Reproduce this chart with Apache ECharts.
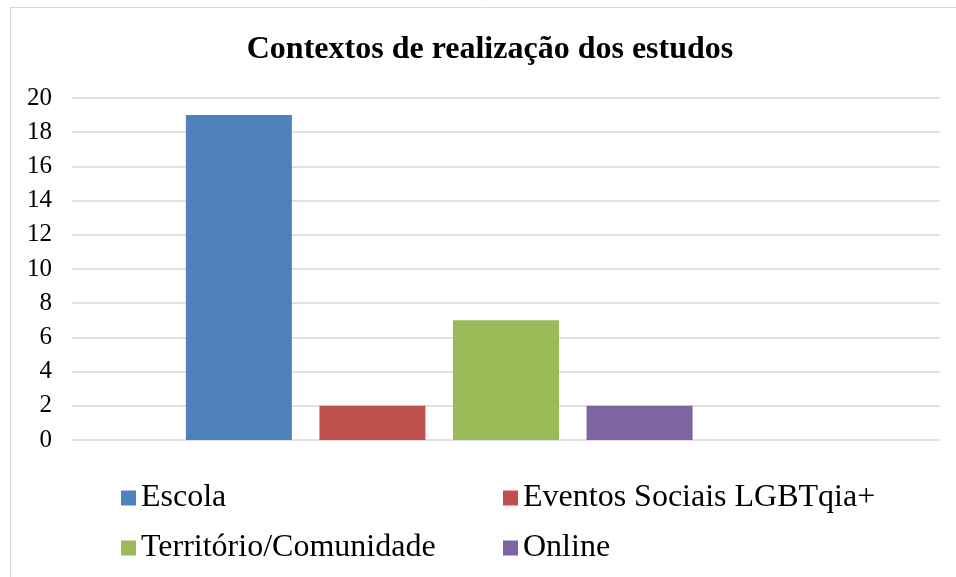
<!DOCTYPE html>
<html>
<head>
<meta charset="utf-8">
<script src="https://cdn.jsdelivr.net/npm/echarts@6/dist/echarts.min.js"></script>
<style>
  html, body { margin: 0; padding: 0; background: #fff; }
  #chart { width: 956px; height: 577px; }
</style>
</head>
<body>
<div id="chart"></div>
<script>
// data
const categories = ['Contextos']
const seriesNames = ['Escola', 'Eventos Sociais LGBTqia+', 'Território/Comunidade', 'Online', '']
const seriesValues = [19, 2, 7, 2, null]
const seriesColors = ['#4f81bd', '#c0504d', '#9bbb59', '#8064a2', '#4bacc6']
const yTicks = { min: 0, max: 20, interval: 2 }

const font = '"Liberation Serif", "Times New Roman", serif'

const chart = echarts.init(document.getElementById('chart'))

const series = seriesNames.map((name, i) => ({
  name: name,
  type: 'bar',
  data: [seriesValues[i]],
  barWidth: 106,
  barGap: '26%',
  itemStyle: { color: seriesColors[i] },
  silent: true
}))

const legendText = { fontFamily: font, fontSize: 32, color: '#000', padding: [0, 0, 0, 0] }

chart.setOption({
  animation: false,
  title: {
    text: 'Contextos de realização dos estudos',
    left: 485,
    textAlign: 'center',
    top: 29,
    textStyle: { fontFamily: font, fontSize: 32, fontWeight: 'bold', color: '#000' }
  },
  graphic: [{
    type: 'rect',
    shape: { x: 10.5, y: 7.5, width: 980, height: 600 },
    style: { fill: 'none', stroke: '#d9d9d9', lineWidth: 1 },
    silent: true
  }],
  legend: [
    {
      orient: 'vertical',
      left: 116,
      top: 477,
      itemWidth: 15,
      itemHeight: 15,
      itemGap: 18,
      icon: 'rect',
      data: [seriesNames[0], seriesNames[2]],
      textStyle: legendText
    },
    {
      orient: 'vertical',
      left: 498,
      top: 477,
      itemWidth: 15,
      itemHeight: 15,
      itemGap: 18,
      icon: 'rect',
      data: [seriesNames[1], seriesNames[3]],
      textStyle: legendText
    }
  ],
  grid: { left: 72, right: 16, top: 98, bottom: 137, containLabel: false },
  xAxis: {
    type: 'category',
    data: categories,
    axisLine: { show: false },
    axisTick: { show: false },
    axisLabel: { show: false }
  },
  yAxis: {
    type: 'value',
    min: yTicks.min,
    max: yTicks.max,
    interval: yTicks.interval,
    axisLine: { show: false },
    axisTick: { show: false },
    axisLabel: { fontFamily: font, fontSize: 25, color: '#000', margin: 20 },
    splitLine: { lineStyle: { color: '#d9d9d9', width: 1.5 } }
  },
  series: series
})
</script>
</body>
</html>
